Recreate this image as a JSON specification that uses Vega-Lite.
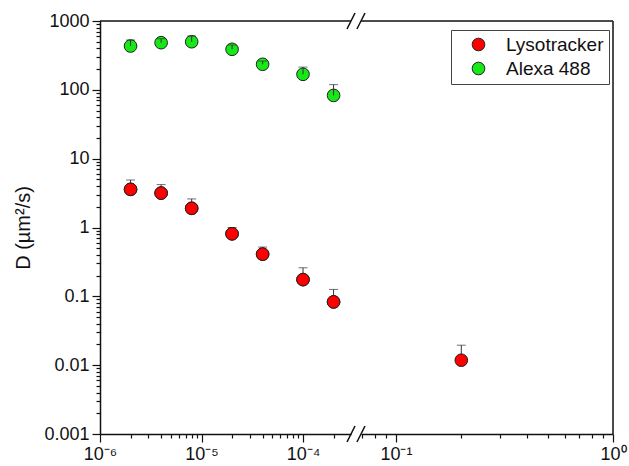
{
  "$schema": "https://vega.github.io/schema/vega-lite/v6.json",
  "padding": {"left": 13, "top": 12, "right": 5, "bottom": 2},
  "bounds": "flush",
  "spacing": 10,
  "config": {
    "view": {"stroke": null},
    "font": "Liberation Sans",
    "axis": {
      "domainColor": "#111",
      "domainWidth": 1.5,
      "tickColor": "#111",
      "tickWidth": 1.2,
      "labelFont": "Liberation Sans",
      "labelFontSize": 18,
      "labelColor": "#111",
      "titleFont": "Liberation Sans",
      "titleFontSize": 20,
      "titleFontWeight": "normal",
      "titleColor": "#111",
      "grid": false,
      "labelOverlap": false,
      "labelFlush": false
    },
    "legend": {
      "labelFont": "Liberation Sans",
      "labelFontSize": 19,
      "labelColor": "#111"
    }
  },
  "resolve": {"scale": {"x": "independent", "y": "shared"}},
  "datasets": {
    "pts": [
      {"series": "Lysotracker", "x": 2e-6, "D": 3.58, "hi": 4.9},
      {"series": "Lysotracker", "x": 4e-6, "D": 3.16, "hi": 4.2},
      {"series": "Lysotracker", "x": 8e-6, "D": 1.9, "hi": 2.6},
      {"series": "Lysotracker", "x": 2e-5, "D": 0.81, "hi": 1.0},
      {"series": "Lysotracker", "x": 4e-5, "D": 0.41, "hi": 0.52},
      {"series": "Lysotracker", "x": 1e-4, "D": 0.175, "hi": 0.26},
      {"series": "Lysotracker", "x": 2e-4, "D": 0.083, "hi": 0.126},
      {"series": "Lysotracker", "x": 0.2, "D": 0.0118, "hi": 0.0195},
      {"series": "Alexa 488", "x": 2e-6, "D": 433, "hi": 530},
      {"series": "Alexa 488", "x": 4e-6, "D": 484, "hi": 553},
      {"series": "Alexa 488", "x": 8e-6, "D": 500, "hi": 605},
      {"series": "Alexa 488", "x": 2e-5, "D": 388, "hi": 448},
      {"series": "Alexa 488", "x": 4e-5, "D": 235, "hi": 262},
      {"series": "Alexa 488", "x": 1e-4, "D": 168, "hi": 214},
      {"series": "Alexa 488", "x": 2e-4, "D": 83, "hi": 119}
    ]
  },
  "hconcat": [
    {
      "width": 251,
      "height": 413,
      "layer": [
        {
          "data": {"name": "pts"},
          "transform": [{"filter": "datum.x < 0.01"}],
          "mark": {"type": "point", "shape": "circle", "filled": true, "size": 160, "opacity": 1, "stroke": "#222", "strokeWidth": 1},
          "encoding": {
            "x": {
              "field": "x", "type": "quantitative",
              "scale": {"type": "log", "domain": [1e-6, 2.97e-4]},
              "axis": {
                "title": null,
                "orient": "bottom",
                "values": [1e-6, 2e-6, 3e-6, 4e-6, 5e-6, 6e-6, 7e-6, 8e-6, 9e-6, 1e-5, 2e-5, 3e-5, 4e-5, 5e-5, 6e-5, 7e-5, 8e-5, 9e-5, 1e-4, 2e-4],
                "labelExpr": "abs(log(datum.value)/LN10 - round(log(datum.value)/LN10)) > 0.01 ? '' : (round(log(datum.value)/LN10) == -6 ? '10⁻⁶' : round(log(datum.value)/LN10) == -5 ? '10⁻⁵' : '10⁻⁴')",
                "tickSize": {"condition": {"test": "abs(log(datum.value)/LN10 - round(log(datum.value)/LN10)) < 0.01", "value": 8}, "value": 4},
                "labelPadding": 3
              }
            },
            "y": {
              "field": "D", "type": "quantitative",
              "scale": {"type": "log", "domain": [0.001, 1000]},
              "axis": {
                "title": "D (µm²/s)",
                "titlePadding": 10,
                "values": [0.001, 0.002, 0.003, 0.004, 0.005, 0.006, 0.007, 0.008, 0.009, 0.01, 0.02, 0.03, 0.04, 0.05, 0.06, 0.07, 0.08, 0.09, 0.1, 0.2, 0.3, 0.4, 0.5, 0.6, 0.7, 0.8, 0.9, 1, 2, 3, 4, 5, 6, 7, 8, 9, 10, 20, 30, 40, 50, 60, 70, 80, 90, 100, 200, 300, 400, 500, 600, 700, 800, 900, 1000],
                "labelExpr": "abs(log(datum.value)/LN10 - round(log(datum.value)/LN10)) > 0.01 ? '' : (round(log(datum.value)/LN10) == 3 ? '1000' : round(log(datum.value)/LN10) == 2 ? '100' : round(log(datum.value)/LN10) == 1 ? '10' : round(log(datum.value)/LN10) == 0 ? '1' : round(log(datum.value)/LN10) == -1 ? '0.1' : round(log(datum.value)/LN10) == -2 ? '0.01' : '0.001')",
                "tickSize": {"condition": {"test": "abs(log(datum.value)/LN10 - round(log(datum.value)/LN10)) < 0.01", "value": 8}, "value": 4},
                "labelPadding": 3
              }
            },
            "color": {
              "field": "series", "type": "nominal",
              "scale": {"domain": ["Lysotracker", "Alexa 488"], "range": ["#ff0000", "#17e817"]},
              "legend": {
                "title": null,
                "orient": "none",
                "legendX": 351,
                "legendY": 9,
                "strokeColor": "#444",
                "padding": 5,
                "symbolOffset": 13,
                "labelOffset": 18,
                "rowPadding": 4,
                "symbolType": "circle",
                "symbolSize": 160,
                "symbolStrokeColor": "#222",
                "symbolStrokeWidth": 1,
                "symbolOpacity": 1
              }
            }
          }
        },
        {
          "data": {"values": [{}]},
          "mark": {"type": "rule", "color": "#111", "strokeWidth": 1.5},
          "encoding": {
            "y": {"datum": 1000, "type": "quantitative", "scale": {"type": "log", "domain": [0.001, 1000]}}
          }
        },
        {
          "data": {"name": "pts"},
          "transform": [{"filter": "datum.x < 0.01 && datum.series == 'Lysotracker'"}],
          "mark": {"type": "rule", "color": "#333", "strokeWidth": 1},
          "encoding": {
            "x": {"field": "x", "type": "quantitative", "scale": {"type": "log", "domain": [1e-6, 2.97e-4]}},
            "y": {"field": "D", "type": "quantitative", "scale": {"type": "log", "domain": [0.001, 1000]}},
            "y2": {"field": "hi"}
          }
        },
        {
          "data": {"name": "pts"},
          "transform": [{"filter": "datum.x < 0.01 && datum.series == 'Lysotracker'"}],
          "mark": {"type": "tick", "orient": "horizontal", "color": "#333", "size": 9, "thickness": 1},
          "encoding": {
            "x": {"field": "x", "type": "quantitative", "scale": {"type": "log", "domain": [1e-6, 2.97e-4]}},
            "y": {"field": "hi", "type": "quantitative", "scale": {"type": "log", "domain": [0.001, 1000]}}
          }
        },
        {
          "data": {"name": "pts"},
          "transform": [{"filter": "datum.x < 0.01 && datum.series == 'Lysotracker'"}],
          "mark": {"type": "point", "shape": "circle", "filled": true, "size": 160, "opacity": 1, "stroke": "#222", "strokeWidth": 1, "color": "#ff0000"},
          "encoding": {
            "x": {"field": "x", "type": "quantitative", "scale": {"type": "log", "domain": [1e-6, 2.97e-4]}},
            "y": {"field": "D", "type": "quantitative", "scale": {"type": "log", "domain": [0.001, 1000]}}
          }
        },
        {
          "data": {"name": "pts"},
          "transform": [{"filter": "datum.x < 0.01 && datum.series == 'Alexa 488'"}],
          "mark": {"type": "rule", "color": "#333", "strokeWidth": 1},
          "encoding": {
            "x": {"field": "x", "type": "quantitative", "scale": {"type": "log", "domain": [1e-6, 2.97e-4]}},
            "y": {"field": "D", "type": "quantitative", "scale": {"type": "log", "domain": [0.001, 1000]}},
            "y2": {"field": "hi"}
          }
        },
        {
          "data": {"name": "pts"},
          "transform": [{"filter": "datum.x < 0.01 && datum.series == 'Alexa 488'"}],
          "mark": {"type": "tick", "orient": "horizontal", "color": "#333", "size": 9, "thickness": 1},
          "encoding": {
            "x": {"field": "x", "type": "quantitative", "scale": {"type": "log", "domain": [1e-6, 2.97e-4]}},
            "y": {"field": "hi", "type": "quantitative", "scale": {"type": "log", "domain": [0.001, 1000]}}
          }
        },
        {
          "data": {"values": [
            {"x1": 2.713e-4, "x2": 3.253e-4, "y1": 765, "y2": 1307},
            {"x1": 2.713e-4, "x2": 3.253e-4, "y1": 7.65e-4, "y2": 1.307e-3}
          ]},
          "mark": {"type": "rule", "color": "#111", "strokeWidth": 1.5},
          "encoding": {
            "x": {"field": "x1", "type": "quantitative", "scale": {"type": "log", "domain": [1e-6, 2.97e-4]}},
            "x2": {"field": "x2"},
            "y": {"field": "y1", "type": "quantitative", "scale": {"type": "log", "domain": [0.001, 1000]}},
            "y2": {"field": "y2"}
          }
        }
      ]
    },
    {
      "width": 252,
      "height": 413,
      "layer": [
        {
          "data": {"name": "pts"},
          "transform": [{"filter": "datum.x > 0.01"}],
          "mark": {"type": "rule", "color": "#333", "strokeWidth": 1},
          "encoding": {
            "x": {
              "field": "x", "type": "quantitative",
              "scale": {"type": "log", "domain": [0.069, 1]},
              "axis": {
                "title": null,
                "orient": "bottom",
                "values": [0.07, 0.08, 0.09, 0.1, 0.2, 0.3, 0.4, 0.5, 0.6, 0.7, 0.8, 0.9, 1],
                "labelExpr": "abs(log(datum.value)/LN10 - round(log(datum.value)/LN10)) > 0.01 ? '' : (round(log(datum.value)/LN10) == -1 ? '10⁻¹' : '10⁰')",
                "tickSize": {"condition": {"test": "abs(log(datum.value)/LN10 - round(log(datum.value)/LN10)) < 0.01", "value": 8}, "value": 4},
                "labelPadding": 3
              }
            },
            "y": {"field": "D", "type": "quantitative", "scale": {"type": "log", "domain": [0.001, 1000]}, "axis": null},
            "y2": {"field": "hi"}
          }
        },
        {
          "data": {"name": "pts"},
          "transform": [{"filter": "datum.x > 0.01"}],
          "mark": {"type": "tick", "orient": "horizontal", "color": "#333", "size": 9, "thickness": 1},
          "encoding": {
            "x": {"field": "x", "type": "quantitative", "scale": {"type": "log", "domain": [0.069, 1]}},
            "y": {"field": "hi", "type": "quantitative", "scale": {"type": "log", "domain": [0.001, 1000]}}
          }
        },
        {
          "data": {"name": "pts"},
          "transform": [{"filter": "datum.x > 0.01"}],
          "mark": {"type": "point", "shape": "circle", "filled": true, "size": 160, "opacity": 1, "stroke": "#222", "strokeWidth": 1},
          "encoding": {
            "x": {"field": "x", "type": "quantitative", "scale": {"type": "log", "domain": [0.069, 1]}},
            "y": {"field": "D", "type": "quantitative", "scale": {"type": "log", "domain": [0.001, 1000]}},
            "color": {
              "field": "series", "type": "nominal",
              "scale": {"domain": ["Lysotracker", "Alexa 488"], "range": ["#ff0000", "#17e817"]},
              "legend": null
            }
          }
        },
        {
          "data": {"values": [{}]},
          "mark": {"type": "rule", "color": "#111", "strokeWidth": 1.5},
          "encoding": {
            "y": {"datum": 1000, "type": "quantitative", "scale": {"type": "log", "domain": [0.001, 1000]}}
          }
        },
        {
          "data": {"values": [{}]},
          "mark": {"type": "rule", "color": "#111", "strokeWidth": 1.5},
          "encoding": {
            "x": {"datum": 1, "type": "quantitative", "scale": {"type": "log", "domain": [0.069, 1]}}
          }
        },
        {
          "data": {"values": [
            {"x1": 0.0661, "x2": 0.0720, "y1": 765, "y2": 1307},
            {"x1": 0.0661, "x2": 0.0720, "y1": 7.65e-4, "y2": 1.307e-3}
          ]},
          "mark": {"type": "rule", "color": "#111", "strokeWidth": 1.5},
          "encoding": {
            "x": {"field": "x1", "type": "quantitative", "scale": {"type": "log", "domain": [0.069, 1]}},
            "x2": {"field": "x2"},
            "y": {"field": "y1", "type": "quantitative", "scale": {"type": "log", "domain": [0.001, 1000]}},
            "y2": {"field": "y2"}
          }
        }
      ]
    }
  ]
}
